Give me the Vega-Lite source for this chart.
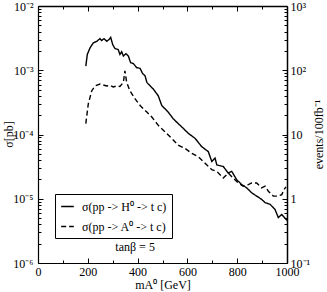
{
  "$schema": "https://vega.github.io/schema/vega-lite/v6.json",
  "width": 249,
  "height": 257,
  "autosize": {"type": "none"},
  "padding": {"left": 38, "top": 6, "right": 40, "bottom": 29},
  "background": "white",
  "config": {
    "view": {"stroke": null},
    "font": "Times New Roman, Liberation Serif, serif",
    "axis": {
      "labelFont": "Times New Roman, Liberation Serif, serif",
      "titleFont": "Times New Roman, Liberation Serif, serif",
      "labelFontSize": 12,
      "titleFontSize": 12,
      "titleFontWeight": "normal",
      "labelColor": "black",
      "titleColor": "black",
      "domainColor": "black",
      "tickColor": "black",
      "grid": false,
      "labelFlush": false,
      "labelOverlap": false
    }
  },
  "data": {
    "values": [
      {"m": 192, "sigma": 0.00116, "process": "H⁰"},
      {"m": 198, "sigma": 0.00176, "process": "H⁰"},
      {"m": 209, "sigma": 0.00223, "process": "H⁰"},
      {"m": 222, "sigma": 0.00267, "process": "H⁰"},
      {"m": 236, "sigma": 0.00282, "process": "H⁰"},
      {"m": 249, "sigma": 0.00311, "process": "H⁰"},
      {"m": 256, "sigma": 0.0029, "process": "H⁰"},
      {"m": 265, "sigma": 0.00311, "process": "H⁰"},
      {"m": 276, "sigma": 0.00282, "process": "H⁰"},
      {"m": 285, "sigma": 0.003, "process": "H⁰"},
      {"m": 292, "sigma": 0.00325, "process": "H⁰"},
      {"m": 300, "sigma": 0.00251, "process": "H⁰"},
      {"m": 309, "sigma": 0.00218, "process": "H⁰"},
      {"m": 322, "sigma": 0.0021, "process": "H⁰"},
      {"m": 329, "sigma": 0.00176, "process": "H⁰"},
      {"m": 336, "sigma": 0.00194, "process": "H⁰"},
      {"m": 343, "sigma": 0.00166, "process": "H⁰"},
      {"m": 353, "sigma": 0.00181, "process": "H⁰"},
      {"m": 363, "sigma": 0.00166, "process": "H⁰"},
      {"m": 372, "sigma": 0.00131, "process": "H⁰"},
      {"m": 383, "sigma": 0.00127, "process": "H⁰"},
      {"m": 396, "sigma": 0.0011, "process": "H⁰"},
      {"m": 410, "sigma": 0.00107, "process": "H⁰"},
      {"m": 420, "sigma": 0.00089, "process": "H⁰"},
      {"m": 430, "sigma": 0.00082, "process": "H⁰"},
      {"m": 437, "sigma": 0.00065, "process": "H⁰"},
      {"m": 443, "sigma": 0.00061, "process": "H⁰"},
      {"m": 463, "sigma": 0.00051, "process": "H⁰"},
      {"m": 483, "sigma": 0.0004, "process": "H⁰"},
      {"m": 497, "sigma": 0.000283, "process": "H⁰"},
      {"m": 523, "sigma": 0.000223, "process": "H⁰"},
      {"m": 543, "sigma": 0.000176, "process": "H⁰"},
      {"m": 563, "sigma": 0.000148, "process": "H⁰"},
      {"m": 584, "sigma": 0.000124, "process": "H⁰"},
      {"m": 604, "sigma": 0.000104, "process": "H⁰"},
      {"m": 631, "sigma": 0.000087, "process": "H⁰"},
      {"m": 657, "sigma": 0.000065, "process": "H⁰"},
      {"m": 684, "sigma": 0.000054, "process": "H⁰"},
      {"m": 698, "sigma": 0.000038, "process": "H⁰"},
      {"m": 711, "sigma": 0.000043, "process": "H⁰"},
      {"m": 718, "sigma": 0.0000337, "process": "H⁰"},
      {"m": 744, "sigma": 0.0000318, "process": "H⁰"},
      {"m": 764, "sigma": 0.0000251, "process": "H⁰"},
      {"m": 778, "sigma": 0.0000267, "process": "H⁰"},
      {"m": 798, "sigma": 0.0000198, "process": "H⁰"},
      {"m": 818, "sigma": 0.0000166, "process": "H⁰"},
      {"m": 838, "sigma": 0.0000148, "process": "H⁰"},
      {"m": 858, "sigma": 0.0000124, "process": "H⁰"},
      {"m": 878, "sigma": 0.000011, "process": "H⁰"},
      {"m": 898, "sigma": 0.0000098, "process": "H⁰"},
      {"m": 912, "sigma": 0.0000087, "process": "H⁰"},
      {"m": 932, "sigma": 0.0000082, "process": "H⁰"},
      {"m": 952, "sigma": 0.0000068, "process": "H⁰"},
      {"m": 965, "sigma": 0.0000051, "process": "H⁰"},
      {"m": 979, "sigma": 0.0000057, "process": "H⁰"},
      {"m": 992, "sigma": 0.000005, "process": "H⁰"},
      {"m": 1000, "sigma": 0.0000046, "process": "H⁰"},
      {"m": 192, "sigma": 0.000148, "process": "A⁰"},
      {"m": 202, "sigma": 0.0003, "process": "A⁰"},
      {"m": 216, "sigma": 0.00048, "process": "A⁰"},
      {"m": 229, "sigma": 0.00057, "process": "A⁰"},
      {"m": 249, "sigma": 0.00061, "process": "A⁰"},
      {"m": 262, "sigma": 0.00059, "process": "A⁰"},
      {"m": 276, "sigma": 0.00057, "process": "A⁰"},
      {"m": 290, "sigma": 0.00058, "process": "A⁰"},
      {"m": 302, "sigma": 0.00055, "process": "A⁰"},
      {"m": 316, "sigma": 0.00057, "process": "A⁰"},
      {"m": 329, "sigma": 0.00056, "process": "A⁰"},
      {"m": 343, "sigma": 0.00065, "process": "A⁰"},
      {"m": 349, "sigma": 0.00098, "process": "A⁰"},
      {"m": 356, "sigma": 0.00065, "process": "A⁰"},
      {"m": 369, "sigma": 0.00048, "process": "A⁰"},
      {"m": 390, "sigma": 0.000358, "process": "A⁰"},
      {"m": 410, "sigma": 0.000283, "process": "A⁰"},
      {"m": 437, "sigma": 0.000223, "process": "A⁰"},
      {"m": 457, "sigma": 0.000187, "process": "A⁰"},
      {"m": 483, "sigma": 0.000139, "process": "A⁰"},
      {"m": 510, "sigma": 0.00011, "process": "A⁰"},
      {"m": 537, "sigma": 0.000087, "process": "A⁰"},
      {"m": 563, "sigma": 0.000068, "process": "A⁰"},
      {"m": 590, "sigma": 0.000061, "process": "A⁰"},
      {"m": 617, "sigma": 0.000051, "process": "A⁰"},
      {"m": 644, "sigma": 0.000045, "process": "A⁰"},
      {"m": 671, "sigma": 0.0000358, "process": "A⁰"},
      {"m": 698, "sigma": 0.0000283, "process": "A⁰"},
      {"m": 718, "sigma": 0.0000267, "process": "A⁰"},
      {"m": 744, "sigma": 0.000021, "process": "A⁰"},
      {"m": 764, "sigma": 0.0000251, "process": "A⁰"},
      {"m": 784, "sigma": 0.000021, "process": "A⁰"},
      {"m": 804, "sigma": 0.0000176, "process": "A⁰"},
      {"m": 824, "sigma": 0.0000157, "process": "A⁰"},
      {"m": 845, "sigma": 0.0000166, "process": "A⁰"},
      {"m": 858, "sigma": 0.0000176, "process": "A⁰"},
      {"m": 878, "sigma": 0.0000176, "process": "A⁰"},
      {"m": 898, "sigma": 0.0000148, "process": "A⁰"},
      {"m": 912, "sigma": 0.0000157, "process": "A⁰"},
      {"m": 925, "sigma": 0.0000131, "process": "A⁰"},
      {"m": 945, "sigma": 0.000011, "process": "A⁰"},
      {"m": 965, "sigma": 0.000011, "process": "A⁰"},
      {"m": 979, "sigma": 0.0000116, "process": "A⁰"},
      {"m": 988, "sigma": 0.0000139, "process": "A⁰"},
      {"m": 996, "sigma": 0.0000153, "process": "A⁰"}
    ]
  },
  "layer": [
    {
      "mark": {"type": "line", "strokeWidth": 1.4, "color": "black", "clip": true},
      "encoding": {
        "x": {
          "field": "m", "type": "quantitative",
          "scale": {"domain": [0, 1000], "nice": false, "zero": false},
          "axis": {
            "orient": "bottom", "values": [0, 200, 400, 600, 800, 1000], "format": "d",
            "tickSize": -5, "labelPadding": 8, "domainWidth": 1.2,
            "title": "mA⁰ [GeV]", "titlePadding": 2
          }
        },
        "y": {
          "field": "sigma", "type": "quantitative",
          "scale": {"type": "log", "domain": [0.000001, 0.01], "nice": false},
          "axis": {
            "orient": "left", "values": [0.000001, 0.00001, 0.0001, 0.001, 0.01],
            "tickSize": -5, "labelPadding": 10, "domainWidth": 1.2,
            "labelExpr": "datum.value < 5e-6 ? '10⁻⁶' : datum.value < 5e-5 ? '10⁻⁵' : datum.value < 5e-4 ? '10⁻⁴' : datum.value < 5e-3 ? '10⁻³' : '10⁻²'",
            "title": "σ[pb]", "titleX": -30, "titleY": 128, "titleBaseline": "middle", "titleAngle": 270
          }
        },
        "strokeDash": {
          "field": "process", "type": "nominal",
          "scale": {"domain": ["H⁰", "A⁰"], "range": [[1, 0], [5, 3]]},
          "legend": {
            "orient": "none", "legendX": 17, "legendY": 188,
            "title": null, "strokeColor": "black", "fillColor": "white",
            "padding": 5, "symbolType": "stroke", "symbolSize": 160,
            "symbolStrokeWidth": 1.5, "symbolStrokeColor": "black",
            "labelFont": "Times New Roman, Liberation Serif, serif", "labelFontSize": 12, "labelColor": "black",
            "labelOffset": 7, "rowPadding": 6, "labelLimit": 300,
            "labelExpr": "'σ(pp -> ' + datum.label + ' -> t c)'"
          }
        }
      }
    },
    {
      "mark": {"type": "point", "opacity": 0},
      "encoding": {
        "x": {
          "field": "m", "type": "quantitative",
          "axis": {"orient": "bottom", "values": [100, 300, 500, 700, 900], "tickSize": -3, "labels": false, "domain": false, "title": null}
        },
        "y": {
          "field": "sigma", "type": "quantitative",
          "axis": {
            "orient": "left",
            "values": [0.000002, 0.000003, 0.000004, 0.000005, 0.000006, 0.000007, 0.000008, 0.000009, 0.00002, 0.00003, 0.00004, 0.00005, 0.00006, 0.00007, 0.00008, 0.00009, 0.0002, 0.0003, 0.0004, 0.0005, 0.0006, 0.0007, 0.0008, 0.0009, 0.002, 0.003, 0.004, 0.005, 0.006, 0.007, 0.008, 0.009],
            "tickSize": -3, "labels": false, "domain": false, "title": null
          }
        }
      }
    },
    {
      "mark": {"type": "point", "opacity": 0},
      "encoding": {
        "x": {
          "field": "m", "type": "quantitative",
          "axis": {"orient": "top", "values": [0, 200, 400, 600, 800, 1000], "tickSize": -5, "labels": false, "domainWidth": 1.5, "title": null}
        },
        "y": {
          "field": "sigma", "type": "quantitative",
          "axis": {
            "orient": "right", "values": [0.000001, 0.00001, 0.0001, 0.001, 0.01],
            "tickSize": -5, "labelPadding": 8, "domainWidth": 1.5,
            "labelExpr": "datum.value < 5e-6 ? '10⁻¹' : datum.value < 5e-5 ? '1' : datum.value < 5e-4 ? '10' : datum.value < 5e-3 ? '10²' : '10³'",
            "title": "events/100fb⁻¹", "titleX": 31, "titleY": 128, "titleBaseline": "middle", "titleAngle": 270
          }
        }
      }
    },
    {
      "mark": {"type": "point", "opacity": 0},
      "encoding": {
        "x": {
          "field": "m", "type": "quantitative",
          "axis": {"orient": "top", "values": [100, 300, 500, 700, 900], "tickSize": -3, "labels": false, "domain": false, "title": null}
        },
        "y": {
          "field": "sigma", "type": "quantitative",
          "axis": {
            "orient": "right",
            "values": [0.000002, 0.000003, 0.000004, 0.000005, 0.000006, 0.000007, 0.000008, 0.000009, 0.00002, 0.00003, 0.00004, 0.00005, 0.00006, 0.00007, 0.00008, 0.00009, 0.0002, 0.0003, 0.0004, 0.0005, 0.0006, 0.0007, 0.0008, 0.0009, 0.002, 0.003, 0.004, 0.005, 0.006, 0.007, 0.008, 0.009],
            "tickSize": -3, "labels": false, "domain": false, "title": null
          }
        }
      }
    },
    {
      "data": {"values": [{"label": "tanβ = 5"}]},
      "mark": {"type": "text", "font": "Times New Roman, Liberation Serif, serif", "fontSize": 12, "color": "black", "baseline": "middle", "align": "center"},
      "encoding": {
        "x": {"datum": 390, "type": "quantitative", "axis": null},
        "y": {"datum": 0.00000175, "type": "quantitative", "axis": null},
        "text": {"field": "label", "type": "nominal"}
      }
    }
  ],
  "resolve": {
    "scale": {"x": "shared", "y": "shared"},
    "axis": {"x": "independent", "y": "independent"}
  }
}
